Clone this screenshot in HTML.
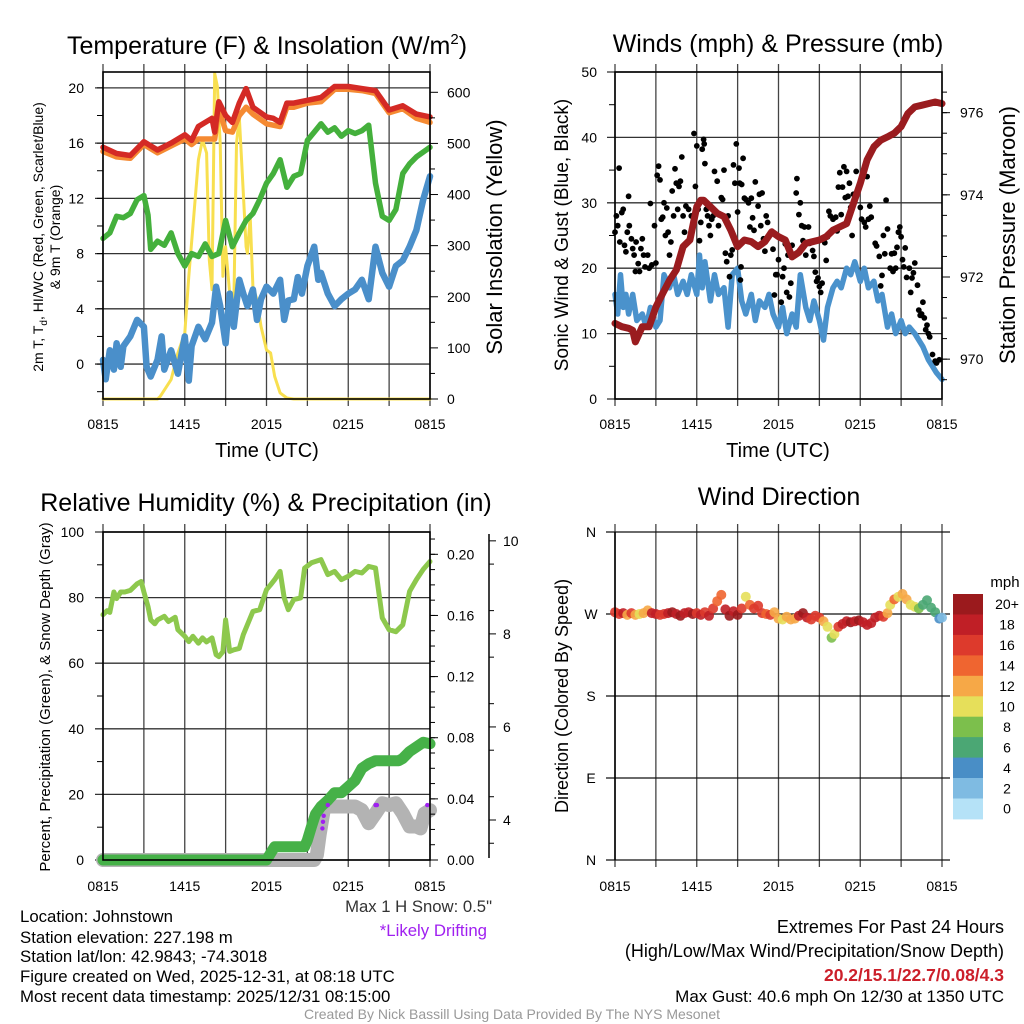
<!DOCTYPE html>
<html><head><meta charset="utf-8"><title>Mesonet Johnstown</title>
<style>
html,body{margin:0;padding:0;background:#fff;}
svg{display:block;font-family:"Liberation Sans",Arial,sans-serif;}
</style></head>
<body>
<svg id="chart" width="1024" height="1024" viewBox="0 0 1024 1024" xmlns="http://www.w3.org/2000/svg">
<rect x="0" y="0" width="1024" height="1024" fill="#fff"/>
<g id="layer-grid"></g>
<g id="layer-data"></g>
<g id="layer-axes"></g>

<text x="267" y="54" font-size="25" text-anchor="middle">Temperature (F) &amp; Insolation (W/m<tspan dy="-10" font-size="15">2</tspan><tspan dy="10">)</tspan></text>
<text x="778" y="52" font-size="25" text-anchor="middle">Winds (mph) &amp; Pressure (mb)</text>
<text x="266" y="511" font-size="25" text-anchor="middle">Relative Humidity (%) &amp; Precipitation (in)</text>
<text x="779" y="505" font-size="25" text-anchor="middle">Wind Direction</text>

<text x="267" y="457" font-size="20" text-anchor="middle">Time (UTC)</text>
<text x="778" y="457" font-size="20" text-anchor="middle">Time (UTC)</text>

<text transform="translate(43,237) rotate(-90)" font-size="14" text-anchor="middle">2m T, T<tspan dy="4" font-size="10">d</tspan><tspan dy="-4">, HI/WC (Red, Green, Scarlet/Blue)</tspan></text>
<text transform="translate(60,237) rotate(-90)" font-size="14" text-anchor="middle">&amp; 9m T (Orange)</text>
<text transform="translate(502,237) rotate(-90)" font-size="22" text-anchor="middle">Solar Insolation (Yellow)</text>
<text transform="translate(568,235) rotate(-90)" font-size="19" text-anchor="middle">Sonic Wind &amp; Gust (Blue, Black)</text>
<text transform="translate(1015,235) rotate(-90)" font-size="22" text-anchor="middle">Station Pressure (Maroon)</text>
<text transform="translate(50,697) rotate(-90)" font-size="15" text-anchor="middle">Percent, Precipitation (Green), &amp; Snow Depth (Gray)</text>
<text transform="translate(568,696) rotate(-90)" font-size="18" text-anchor="middle">Direction (Colored By Speed)</text>

<text x="1005" y="587" font-size="15" text-anchor="middle">mph</text>

<text x="492" y="912" font-size="16.7" text-anchor="end" fill="#333">Max 1 H Snow: 0.5"</text>
<text x="487" y="936" font-size="16.8" text-anchor="end" fill="#a020f0">*Likely Drifting</text>

<g font-size="16.8">
<text x="20" y="922">Location: Johnstown</text>
<text x="20" y="943">Station elevation: 227.198 m</text>
<text x="20" y="962">Station lat/lon: 42.9843; -74.3018</text>
<text x="20" y="982">Figure created on Wed, 2025-12-31, at 08:18 UTC</text>
<text x="20" y="1002">Most recent data timestamp: 2025/12/31 08:15:00</text>
</g>
<g text-anchor="end">
<text x="1004" y="933" font-size="18">Extremes For Past 24 Hours</text>
<text x="1004" y="957" font-size="18">(High/Low/Max Wind/Precipitation/Snow Depth)</text>
<text x="1004" y="981" font-size="17.5" fill="#cc1f2a" font-weight="bold">20.2/15.1/22.7/0.08/4.3</text>
<text x="1004" y="1002" font-size="17">Max Gust: 40.6 mph On 12/30 at 1350 UTC</text>
</g>
<text x="512" y="1019" font-size="14" fill="#999" text-anchor="middle">Created By Nick Bassill Using Data Provided By The NYS Mesonet</text>
</svg>

<script>
// ---------------- DATA ----------------
const tempT = [0,1,2,3,4,5,6,6.5,7,8,8.2,8.5,9,9.5,10,10.5,11,12,12.5,13,13.5,14,15,16,17,18,19,20,21,22,23,24];
const tempRed = [15.7,15.25,15.1,16.1,15.5,16.0,16.6,16.2,17.2,17.8,16.8,19.0,18.0,17.5,18.9,19.95,18.6,17.9,17.8,17.5,18.9,18.9,19.1,19.3,20.1,20.1,19.95,19.8,18.4,18.7,18.1,17.9];
const tempOrange = [15.4,15.0,14.9,15.9,15.3,15.8,16.3,15.9,16.3,16.3,16.3,18.5,16.9,16.8,18.0,18.6,18.1,17.4,17.3,17.2,18.6,18.6,18.9,19.0,19.9,19.9,19.8,19.6,18.2,18.5,17.8,17.5];
const chillT = [0,0.5,1,1.5,2,2.5,3,3.3,3.5,4,4.5,5,5.5,6,6.5,7,7.5,8,8.5,9,9.5,10,10.5,11,11.5,12,12.5,13,13.5,14,14.5,15,15.5,16,16.5,17,17.5,18,18.5,19,19.5,20,20.5,21,21.5,22,22.5,23,24];
const chillVals = [9.1,9.5,10.7,10.6,10.9,11.9,12.2,10.8,8.3,8.9,8.6,9.5,8.0,7.1,8.0,7.8,8.7,7.8,8.0,10.4,8.5,9.5,10.4,10.9,11.9,13.1,13.8,14.8,12.8,13.6,13.8,16.2,16.8,17.4,16.8,17.1,16.5,16.9,16.7,16.9,17.3,13.1,10.7,10.4,11.2,13.8,14.5,15.0,15.7];
const dewT = [0,0.2,0.5,0.8,1,1.3,1.5,2,2.5,3,3.2,3.5,4,4.3,4.5,5,5.5,6,6.3,6.5,7,7.5,8,8.3,8.6,9,9.3,9.6,10,10.3,10.6,11,11.3,11.6,12,12.5,13,13.3,13.6,14,14.3,14.6,15,15.5,15.8,16,16.5,17,17.5,18,18.5,19,19.5,20,20.5,21,21.5,22,22.5,23,23.5,24];
const dewVals = [0.3,-1.1,1.0,-0.4,1.5,-0.2,1.3,2.0,3.2,2.7,-0.2,-0.9,0.3,2.0,-0.4,1.0,-0.7,2.0,-1.2,1.3,2.7,1.8,3.0,5.6,4.2,1.5,5.1,2.7,6.1,5.1,4.2,5.4,3.2,4.7,5.6,5.1,6.1,3.2,4.6,4.7,6.3,5.1,7.1,8.5,6.1,6.6,5.1,4.2,4.7,5.1,5.4,6.1,4.7,8.5,6.6,5.6,7.1,7.5,8.5,9.7,11.9,13.6];
const solarT = [0,4,4.2,5,5.5,6,6.3,6.6,7,7.3,7.6,7.8,8,8.2,8.4,8.6,8.8,9,9.3,9.6,9.8,10,10.3,10.5,10.6,10.8,11,11.3,11.6,12,12.3,12.6,13,13.5,14,24];
const solarVals = [0,0,5,38,90,129,240,337,468,507,481,272,214,637,611,500,240,298,207,181,500,552,403,298,285,357,220,194,142,96,90,44,12,2,0,0];

const windT = [0,0.2,0.4,0.6,0.8,1,1.3,1.6,2,2.3,2.6,3,3.3,3.6,4,4.3,4.6,5,5.3,5.6,6,6.2,6.4,6.6,7,7.3,7.6,8,8.3,8.6,9,9.3,9.6,10,10.3,10.6,11,11.3,11.6,12,12.3,12.6,13,13.3,13.6,14,14.3,14.6,15,15.3,15.6,16,16.3,16.6,17,17.3,17.6,18,18.3,18.6,19,19.3,19.6,20,20.3,20.6,21,21.3,21.6,22,22.3,22.6,23,23.3,23.6,24];
const windVals = [16,13,19,14,16,13,16,12,13,11,14,11,12,19,17,19,16,18,16,19,16,22,17,21,15,19,16,17,11,19,20,15,13,16,12,15,14,16,13,11,14,10,13,11,19,14,12,15,12,9,14,17,18,17,20,19,21,18,20,17,18,15,16,11,13,10,12,10,11,10,9,8,6,5,4,3];
const gustT = [0,0.1,0.2,0.3,0.35,0.5,0.6,0.7,0.8,0.9,1.0,1.05,1.2,1.3,1.4,1.5,1.55,1.7,1.8,1.9,2.0,2.1,2.2,2.4,2.5,2.6,2.7,2.9,3.0,3.1,3.2,3.3,3.4,3.5,3.6,3.7,3.8,3.9,4.0,4.1,4.2,4.3,4.4,4.5,4.6,4.7,4.8,4.9,5.0,5.1,5.2,5.4,5.6,5.8,5.9,6.0,6.1,6.2,6.3,6.4,6.5,6.55,6.6,6.7,6.8,6.9,7.0,7.1,7.2,7.3,7.5,7.6,7.8,7.9,8.0,8.1,8.2,8.3,8.4,8.5,8.6,8.7,8.8,8.9,9.0,9.1,9.15,9.2,9.25,9.3,9.4,9.5,9.6,9.8,9.9,10.0,10.1,10.2,10.3,10.5,10.6,10.7,10.8,10.9,11.0,11.1,11.2,11.4,11.6,11.7,11.8,11.9,12.0,12.2,12.3,12.4,12.5,12.6,12.7,12.8,12.9,13.0,13.3,13.35,13.5,13.6,13.7,13.8,13.9,14.0,14.2,14.3,14.5,14.6,14.7,14.8,14.9,15.0,15.1,15.2,15.4,15.5,15.6,15.7,15.8,16.0,16.2,16.3,16.4,16.5,16.6,16.7,16.8,16.9,17.0,17.1,17.2,17.3,17.4,17.5,17.7,17.8,18.0,18.1,18.3,18.4,18.5,18.6,18.7,18.8,19.1,19.2,19.4,19.5,19.6,19.7,19.8,19.9,20.0,20.2,20.3,20.4,20.5,20.6,20.7,20.8,20.9,21.0,21.1,21.2,21.3,21.4,21.6,21.7,21.8,21.9,22.0,22.2,22.3,22.4,22.5,22.6,22.7,22.8,22.9,23.0,23.1,23.3,23.5,23.6,23.8];
const gustVals = [25.5,28,26.5,35.3,24,28.5,29,23.5,22.5,25.5,31,26.5,24.5,23,22,19.5,24,20.7,19.5,23,24.5,22,20.2,22,20,29.9,20.5,26.5,20.8,34.2,35.6,33.5,27.5,27.8,30,25,29.2,25.5,22,24,31.8,28,35.2,33,29,32.5,33.3,37,28,25.5,29.5,29,28,40.6,32.5,38.7,29,24.2,27,38.2,39.7,39,36,29,28,26.5,25,27.5,28,34.8,33.3,26.5,30.8,30.5,35,22.3,21,28,18.7,22,22.8,35.8,33,39,28.6,35.3,33,18.2,20.2,32.8,36.8,30.7,30.5,30,26.3,30.7,27.7,25.8,33.2,29.5,31.3,26.5,31.5,24.5,22.6,28,27,25.4,22.9,15.9,19,19,21.3,14.8,18.7,20,23.7,16.3,22,15.6,17.7,23.5,31.5,33.7,28.2,30,26.5,24.2,26.3,22,26.3,23.8,22.7,21.8,19.4,18,18.5,17.2,16.3,17.7,23.9,21.2,24.8,28.7,28,27.5,27.8,25.7,32.4,34.6,28.2,32.4,35.5,30.8,34.8,31,33,29.3,25,31.3,34.8,31.7,29.3,27.5,27,26.3,34,27.5,29.5,27.8,23.8,23.4,21.8,17.3,18.9,25,22.2,30.4,26,20,22.2,19.5,22.3,20,23.2,25.5,26.3,24.8,21.3,20.2,23.1,18.6,20,16.3,18.5,19.3,20.8,17.4,13.6,12.8,13,14.8,12.4,10.6,11.3,10,9.5,6.8,5.8,5.5,6];
const presT = [0,0.5,1,1.3,1.5,2,2.5,3,3.5,4,4.5,5,5.5,6,6.3,6.5,7,7.5,8,8.5,9,9.5,10,10.5,11,11.5,12,12.5,13,13.5,14,14.5,15,15.5,16,16.5,17,17.5,18,18.5,19,19.5,20,20.5,21,21.5,22,22.5,23,23.5,24];
const presVals = [970.87,970.79,970.75,970.7,970.42,970.79,970.79,971.27,971.6,971.92,972.17,972.74,972.9,973.71,973.87,973.87,973.71,973.55,973.47,973.14,972.74,972.9,972.86,972.74,972.86,973.1,972.98,972.9,972.49,972.6,972.82,972.86,972.9,972.98,973.14,973.22,973.3,973.79,974.28,974.85,975.17,975.33,975.41,975.5,975.66,975.98,976.14,976.18,976.22,976.26,976.22];

const rhT = [0,0.3,0.5,0.8,1,1.3,1.6,2,2.5,2.8,3,3.3,3.5,3.8,4,4.5,4.8,5.3,5.5,6,6.3,6.6,7,7.3,7.6,8,8.3,8.5,8.8,9,9.3,9.6,10,10.3,11,11.5,12,12.3,12.6,13,13.3,13.6,14,14.5,14.8,15.3,16,16.5,17,17.5,18,18.5,19,19.5,20,20.5,21,21.5,22,22.5,23,23.5,24];
const rhVals = [74.8,76,75.5,81.7,79.7,81.7,81.7,82.2,84.2,84.9,81.7,77.3,73.2,72,73.2,74.3,72.7,74,70.2,68.2,66.6,68.2,66.1,67.7,66.5,67.7,62.6,62,63.5,73.2,63.6,64.1,64.5,68.7,75.8,76.3,82.4,83.9,85.5,88,79.9,76.3,79.4,79.9,89,90.6,91.6,87,88,85.5,86.5,88,87.5,89.5,89,73.8,70.2,69.6,71.7,81.9,85.5,88.6,91];
const precipT = [0,12,12.3,12.6,14.8,15,15.3,15.6,16,16.5,17,17.5,18,18.5,19,19.5,20,21.7,22,22.5,23,23.5,24];
const precipVals = [0,0,0.0044,0.0087,0.0087,0.013,0.022,0.03,0.035,0.039,0.044,0.044,0.048,0.052,0.06,0.063,0.065,0.065,0.0665,0.071,0.074,0.077,0.076];
const snowT = [0,15.5,15.7,15.9,16.2,16.5,17,17.5,18,18.5,19,19.5,20,20.5,21,21.5,22,22.5,23,23.3,23.6,24];
const snowVals = [3.0,3.0,3.25,3.68,4.21,4.29,4.29,4.29,4.29,4.29,4.21,3.93,4.14,4.36,4.32,4.36,4.14,3.86,3.86,3.82,4.14,4.21];
const driftT = [16.1,16.15,16.2,16.5,20.0,20.1,23.8];
const driftVals = [3.82,3.96,4.09,4.32,4.32,4.32,4.32];

const dirT = [0,0.3,0.6,0.9,1.2,1.5,1.8,2.1,2.4,2.7,3.0,3.3,3.6,3.9,4.2,4.5,4.8,5.1,5.4,5.7,6.0,6.3,6.6,6.9,7.2,7.5,7.8,8.1,8.4,8.7,9.0,9.3,9.6,9.9,10.2,10.5,10.8,11.1,11.4,11.7,12.0,12.3,12.6,12.9,13.2,13.5,13.8,14.1,14.4,14.7,15.0,15.3,15.6,15.9,16.1,16.4,16.7,17.0,17.3,17.6,17.9,18.2,18.5,18.8,19.1,19.4,19.7,20.0,20.2,20.5,20.8,21.1,21.4,21.7,22.0,22.3,22.6,22.9,23.2,23.5,23.8,24.0];
const dirVals = [272,270,271,269,271,269,270,271,274,271,270,269,270,271,272,270,268,271,272,270,271,269,272,268,276,284,291,275,268,273,269,276,289,280,276,279,271,270,269,272,265,264,267,264,265,268,271,266,264,268,266,262,256,244,248,256,259,262,261,262,263,261,258,260,266,268,267,271,280,286,289,292,286,280,278,276,280,285,277,272,265,266];
const dirSpeed = [17,16,18,13,16,12,11,12,13,19,18,17,16,18,20,19,20,18,19,20,17,18,16,19,16,14,15,19,20,19,20,16,10,14,17,16,17,15,17,13,12,11,12,13,12,19,20,18,17,16,17,12,11,8,10,16,18,19,20,19,20,18,18,19,18,19,16,13,10,15,10,13,12,11,10,9,7,6,7,6,4,3];
const speedLabels = ["20+","18","16","14","12","10","8","6","4","2","0"];
const speedColors = ["#9b1a1d","#c01f26","#dd3a2c","#ef6530","#f6a847","#e6df5a","#7cbf4c","#4ba774","#498ec6","#7fbbe2","#b5e2f7"];

const timeTickLabels = ["0815","1415","2015","0215","0815"];
const tempTicks = [0,4,8,12,16,20];
const solarTicks = [0,100,200,300,400,500,600];
const windTicks = [0,10,20,30,40,50];
const presTicks = [970,972,974,976];
const rhTicks = [0,20,40,60,80,100];
const precipTicks = ["0.00","0.04","0.08","0.12","0.16","0.20"];
const snowTicks = [4,6,8,10];
const dirLabels = ["N","E","S","W","N"];

// ---------------- DRAWING ----------------
const NS = "http://www.w3.org/2000/svg";
const gGrid = document.getElementById('layer-grid');
const gData = document.getElementById('layer-data');
const gAxes = document.getElementById('layer-axes');
function mk(tag, attrs, parent) {
  const e = document.createElementNS(NS, tag);
  for (const k in attrs) e.setAttribute(k, attrs[k]);
  parent.appendChild(e);
  return e;
}
function lin(d0, d1, r0, r1) { return v => r0 + (v - d0) * (r1 - r0) / (d1 - d0); }

const P1 = {x0:103,x1:430,y0:72,y1:399};
const P2 = {x0:615,x1:942,y0:72,y1:399};
const P3 = {x0:103,x1:430,y0:532,y1:860};
const P4 = {x0:615,x1:942,y0:532,y1:860};

function linePath(xs, ys, sx, sy, lo, hi) {
  let d = "";
  for (let i = 0; i < xs.length; i++) {
    let v = ys[i];
    if (lo !== undefined) v = Math.max(lo, Math.min(hi, v));
    d += (i ? "L" : "M") + sx(xs[i]).toFixed(1) + "," + sy(v).toFixed(1);
  }
  return d;
}
function drawLine(name, xs, ys, sx, sy, color, w, lo, hi) {
  const p = mk('path', {d: linePath(xs, ys, sx, sy, lo, hi), fill:'none', stroke:color, 'stroke-width':w, 'stroke-linejoin':'round', 'stroke-linecap':'round'}, gData);
  
  
  return p;
}
function frameAndTime(P, name, labelY) {
  const sx = lin(0, 24, P.x0, P.x1);
  for (let h = 0; h <= 24; h += 3) {
    const x = sx(h);
    const l = mk('line', {x1:x, x2:x, y1:P.y0-8, y2:P.y1+7, stroke:'#444', 'stroke-width':1.3}, gGrid);
    
    
  }
  for (let i = 0; i < timeTickLabels.length; i++) {
    const t = mk('text', {x:sx(i*6), y:labelY, 'font-size':14, 'text-anchor':'middle'}, gAxes);
    t.textContent = timeTickLabels[i];
    
    
  }
  const r = mk('rect', {x:P.x0, y:P.y0, width:P.x1-P.x0, height:P.y1-P.y0, fill:'none', stroke:'#000', 'stroke-width':1.6}, gAxes);
  
  
  return sx;
}
function hGrid(P, y, name) {
  const l = mk('line', {x1:P.x0-8, x2:P.x1, y1:y, y2:y, stroke:'#333', 'stroke-width':1.3}, gGrid);
  
  
}
function tick(x1, x2, y, name) {
  const l = mk('line', {x1:x1, x2:x2, y1:y, y2:y, stroke:'#000', 'stroke-width':1}, gAxes);
  
  
}
function label(x, y, txt, anchor, size, name) {
  const t = mk('text', {x:x, y:y+5, 'font-size':size, 'text-anchor':anchor}, gAxes);
  t.textContent = txt;
  
  
}

// ---- Panel 1 ----
{
  const sx = frameAndTime(P1, 'temp', 429);
  const sy = lin(-2.53, 21.15, P1.y1, P1.y0);
  const sr = lin(0, 639.7, P1.y1, P1.y0);
  for (const v of tempTicks) { hGrid(P1, sy(v), 'temp-horizontal-gridline'); label(84, sy(v), String(v), 'end', 14, 'temp-y-tick-label'); }
  for (let v = -2; v <= 21; v += 2) tick(P1.x0-6, P1.x0, sy(v), 'temp-y-minor-tick');
  for (const v of solarTicks) { tick(P1.x1, P1.x1+8, sr(v), 'solar-y-tick'); label(447, sr(v), String(v), 'start', 14, 'solar-y-tick-label'); }
  for (let v = 50; v < 640; v += 100) tick(P1.x1, P1.x1+5, sr(v), 'solar-y-minor-tick');
  drawLine('solar-insolation-line', solarT, solarVals, sx, sr, '#f8df4f', 3, 0, 639.7);
  drawLine('dewpoint-line', dewT, dewVals, sx, sy, '#4a8fca', 6.5, -2.53, 21.15);
  drawLine('wind-chill-line', chillT, chillVals, sx, sy, '#44b03c', 5.5);
  drawLine('temp-9m-line', tempT, tempOrange, sx, sy, '#f58a32', 5.5);
  drawLine('temp-2m-line', tempT, tempRed, sx, sy, '#d42a25', 5.5);
}

// ---- Panel 2 ----
{
  const sx = frameAndTime(P2, 'winds', 429);
  const sy = lin(0, 50, P2.y1, P2.y0);
  const sp = lin(969.03, 976.99, P2.y1, P2.y0);
  for (const v of windTicks) { hGrid(P2, sy(v), 'winds-horizontal-gridline'); label(597, sy(v), String(v), 'end', 14, 'wind-y-tick-label'); }
  for (let v = 5; v < 50; v += 10) tick(P2.x0-6, P2.x0, sy(v), 'wind-y-minor-tick');
  for (const v of presTicks) { tick(P2.x1, P2.x1+8, sp(v), 'pressure-y-tick'); label(960, sp(v), String(v), 'start', 14, 'pressure-y-tick-label'); }
  for (let v = 969.5; v < 977; v += 0.5) tick(P2.x1, P2.x1+5, sp(v), 'pressure-y-minor-tick');
  drawLine('sonic-wind-line', windT, windVals, sx, sy, '#4a92cc', 5.5);
  for (let i = 0; i < gustT.length; i++) {
    const c = mk('circle', {cx:sx(gustT[i]).toFixed(1), cy:sy(gustVals[i]).toFixed(1), r:2.9, fill:'#000'}, gData);
    
    
  }
  drawLine('pressure-line', presT, presVals, sx, sp, '#9a1c1f', 7);
}

// ---- Panel 3 ----
{
  const sx = frameAndTime(P3, 'humidity', 891);
  const sy = lin(0, 100, P3.y1, P3.y0);
  const spr = lin(0, 0.2146, P3.y1, P3.y0);
  const ssn = lin(3.14, 10.19, P3.y1, P3.y0);
  for (const v of rhTicks) { hGrid(P3, sy(v), 'humidity-horizontal-gridline'); label(84, sy(v), String(v), 'end', 14, 'humidity-y-tick-label'); }
  for (let v = 10; v < 100; v += 20) tick(P3.x0-6, P3.x0, sy(v), 'humidity-y-minor-tick');
  for (const s of precipTicks) { const v = parseFloat(s); tick(P3.x1, P3.x1+8, spr(v), 'precip-y-tick'); label(447, spr(v), s, 'start', 14, 'precip-y-tick-label'); }
  for (let v = 0.01; v < 0.214; v += 0.01) tick(P3.x1, P3.x1+5, spr(v), 'precip-y-minor-tick');
  const ax = mk('line', {x1:489, x2:489, y1:534, y2:858, stroke:'#000', 'stroke-width':1.5}, gAxes);
  
  
  for (const v of snowTicks) { tick(489, 496, ssn(v), 'snow-y-tick'); label(503, ssn(v), String(v), 'start', 14, 'snow-y-tick-label'); }
  for (let v = 3.5; v < 10.2; v += 1) tick(489, 494, ssn(v), 'snow-y-minor-tick');
  drawLine('snow-depth-line', snowT, snowVals, sx, ssn, '#b3b3b3', 14, 3.14, 10.19);
  drawLine('precipitation-line', precipT, precipVals, sx, spr, '#46b148', 11);
  drawLine('relative-humidity-line', rhT, rhVals, sx, sy, '#8dc84d', 5);
  for (let i = 0; i < driftT.length; i++) {
    const c = mk('circle', {cx:sx(driftT[i]).toFixed(1), cy:ssn(driftVals[i]).toFixed(1), r:2.2, fill:'#a020f0'}, gData);
    
    
  }
}

// ---- Panel 4 ----
{
  const sx = lin(0, 24, P4.x0, P4.x1);
  const sy = lin(0, 360, P4.y1, P4.y0);
  for (let h = 0; h <= 24; h += 3) {
    const l = mk('line', {x1:sx(h), x2:sx(h), y1:P4.y0-8, y2:P4.y1+7, stroke:'#444', 'stroke-width':1.3}, gGrid);
    
    
  }
  for (let i = 0; i < timeTickLabels.length; i++) {
    const t = mk('text', {x:sx(i*6), y:891, 'font-size':14, 'text-anchor':'middle'}, gAxes);
    t.textContent = timeTickLabels[i];
    
    
  }
  for (let i = 0; i < dirLabels.length; i++) {
    const y = sy(i*90);
    const l = mk('line', {x1:606, x2:950, y1:y, y2:y, stroke:'#111', 'stroke-width':1.3}, gGrid);
    
    
    label(591, y, dirLabels[i], 'middle', 14, 'direction-y-tick-label');
  }
  const lft = mk('line', {x1:P4.x0, x2:P4.x0, y1:P4.y0, y2:P4.y1, stroke:'#000', 'stroke-width':1.6}, gAxes);
  
  
  for (let i = 0; i < dirT.length; i++) {
    const s = dirSpeed[i];
    const bin = Math.max(0, Math.min(10, 10 - Math.floor(s / 2)));
    const c = mk('circle', {cx:sx(dirT[i]).toFixed(1), cy:sy(dirVals[i]).toFixed(1), r:5, fill:speedColors[bin], 'fill-opacity':0.9}, gData);
    
    
  }
  for (let i = 0; i < speedLabels.length; i++) {
    const y = 594 + i * 20.45;
    const r = mk('rect', {x:953, y:y.toFixed(1), width:30, height:20.9, fill:speedColors[i]}, gAxes);
    
    
    label(1007, y + 10.2, speedLabels[i], 'middle', 14, 'colorbar-label');
  }
}
</script>
</body></html>
